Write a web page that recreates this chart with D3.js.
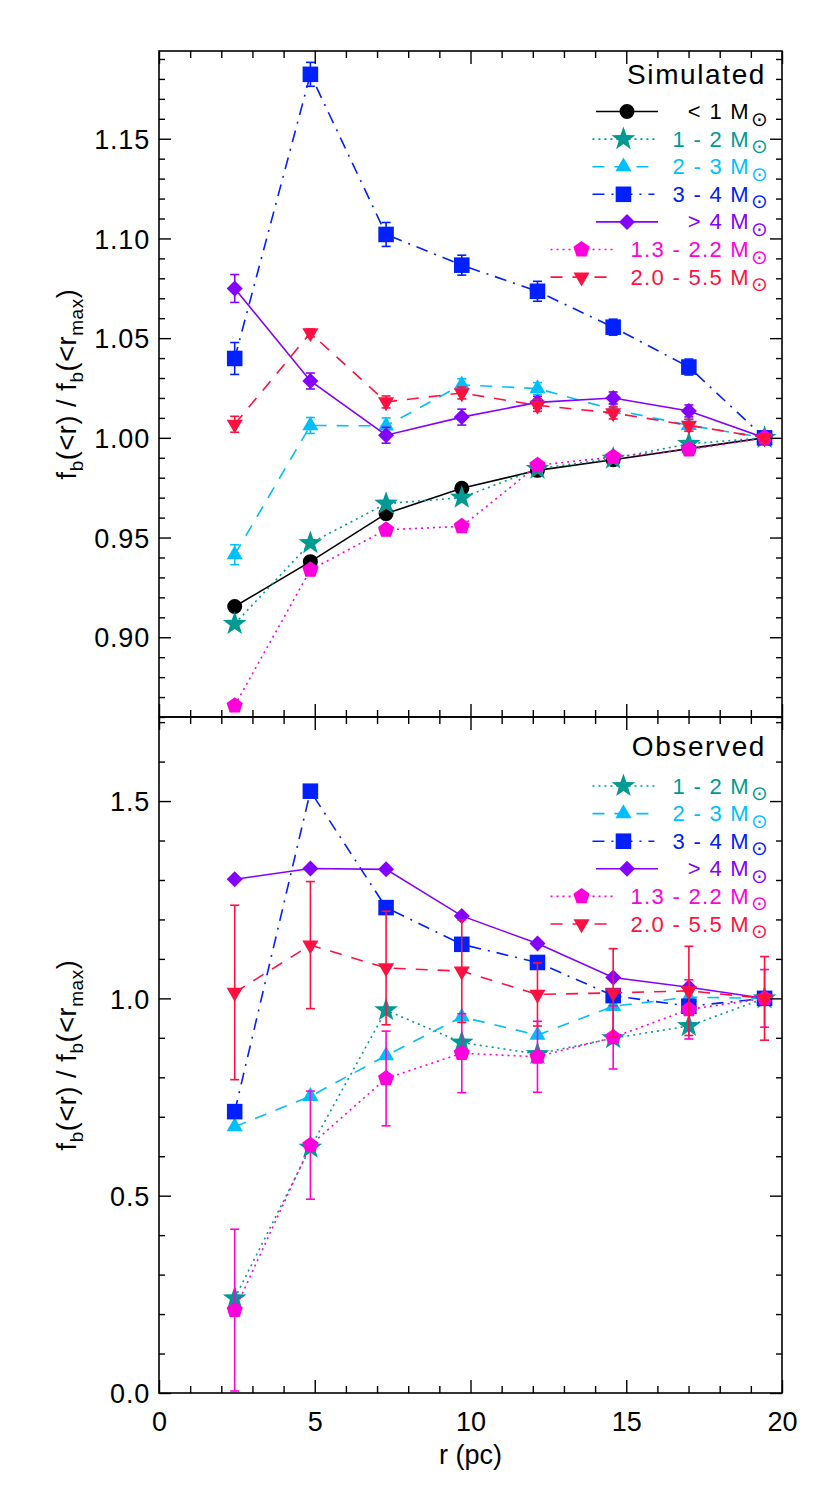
<!DOCTYPE html>
<html>
<head>
<meta charset="utf-8">
<script src="https://cdn.jsdelivr.net/npm/d3@7"></script>
<style>
body { margin: 0; background: #fff; }
text { font-family: "Liberation Sans", Arial, sans-serif; }
</style>
</head>
<body>
<script>
// radii of the 8 bins (pc)
var rPc = [2.43, 4.86, 7.29, 9.72, 12.15, 14.58, 17.01, 19.44];

// simulated
var simLt1      = [0.9154, 0.9379, 0.9620, 0.9747, 0.9837, 0.9890, 0.9946, 1.0];
var sim1to2     = [0.9067, 0.9472, 0.9670, 0.9700, 0.9845, 0.9896, 0.9970, 1.0];
var sim2to3     = [0.9414, 1.0062, 1.0060, 1.0266, 1.0247, 1.0142, 1.0063, 1.0];
var sim2to3Err  = [0.005, 0.004, 0.004, 0.003, 0.003, 0.003, 0.003, 0.002];
var sim3to4     = [1.0398, 1.1823, 1.1020, 1.0866, 1.0735, 1.0555, 1.0355, 1.0];
var sim3to4Err  = [0.008, 0.006, 0.006, 0.005, 0.005, 0.004, 0.004, 0.003];
var simGt4      = [1.0749, 1.0285, 1.0013, 1.0104, 1.0178, 1.0200, 1.0135, 1.0];
var simGt4Err   = [0.007, 0.004, 0.004, 0.004, 0.003, 0.003, 0.003, 0.002];
var sim13to22   = [0.8657, 0.9338, 0.9539, 0.9556, 0.9862, 0.9904, 0.9941, 1.0];
var sim20to55   = [1.0068, 1.0526, 1.0180, 1.0225, 1.0163, 1.0125, 1.0063, 1.0];
var sim20to55Err= [0.004, 0.002, 0.003, 0.003, 0.003, 0.003, 0.003, 0.002];

// observed
var obs1to2     = [0.240, 0.622, 0.970, 0.888, 0.859, 0.899, 0.930, 1.0];
var obs2to3     = [0.675, 0.752, 0.855, 0.953, 0.907, 0.980, 1.003, 1.0];
var obs3to4     = [0.713, 1.525, 1.230, 1.137, 1.091, 1.007, 0.980, 1.0];
var obsGt4      = [1.302, 1.329, 1.327, 1.209, 1.139, 1.053, 1.028, 1.0];
var obs13to22   = [0.210, 0.628, 0.797, 0.861, 0.852, 0.901, 0.972, 1.0];
var obs13to22Err= [0.205, 0.137, 0.120, 0.100, 0.090, 0.080, 0.075, 0.073];
var obs20to55   = [1.015, 1.135, 1.077, 1.069, 1.010, 1.014, 1.019, 1.0];
var obs20to55Err= [0.221, 0.161, 0.144, 0.130, 0.080, 0.112, 0.113, 0.106];

var massLabels = ["< 1 M", "1 - 2 M", "2 - 3 M", "3 - 4 M", "> 4 M", "1.3 - 2.2 M", "2.0 - 5.5 M"];
var xTicks = [0, 5, 10, 15, 20];
var yTicksTop = [0.90, 0.95, 1.00, 1.05, 1.10, 1.15];
var yTicksBot = [0.0, 0.5, 1.0, 1.5];

// styles for each mass bin (index into massLabels)
var styles = [
  {color: "#000000", dash: null,          sym: "circle"},
  {color: "#009a94", dash: "2,4",         sym: "star"},
  {color: "#00bfff", dash: "12,10",       sym: "triangle"},
  {color: "#0020ff", dash: "12,7,2,7",    sym: "square"},
  {color: "#8400ff", dash: null,          sym: "diamond"},
  {color: "#ff00dc", dash: "2,4",         sym: "pentagon"},
  {color: "#ff1040", dash: "12,10",       sym: "triangleDown"}
];

var W = 830, H = 1495;
var left = 159, right = 782;

var svg = d3.select("body").append("svg")
  .attr("width", W)
  .attr("height", H);

var x = d3.scaleLinear().domain([0, 20]).range([left, right]);

// marker paths
function poly(n, R, start, cx, cy) {
  var pts = [];
  for (var i = 0; i < n; i++) {
    var a = start + i * 2 * Math.PI / n;
    pts.push([cx + R * Math.cos(a), cy + R * Math.sin(a)]);
  }
  return "M" + pts.map(function(p){ return p[0].toFixed(2) + "," + p[1].toFixed(2); }).join("L") + "Z";
}
function starPath(R, cx, cy) {
  var pts = [], r2 = R * 0.40;
  for (var i = 0; i < 10; i++) {
    var a = -Math.PI / 2 + i * Math.PI / 5;
    var rr = i % 2 ? r2 : R;
    pts.push([cx + rr * Math.cos(a), cy + rr * Math.sin(a)]);
  }
  return "M" + pts.map(function(p){ return p[0].toFixed(2) + "," + p[1].toFixed(2); }).join("L") + "Z";
}
function symbolPath(type, cx, cy) {
  switch (type) {
    case "circle": return "M" + (cx + 7.5) + "," + cy + "A7.5,7.5 0 1,1 " + (cx - 7.5) + "," + cy + "A7.5,7.5 0 1,1 " + (cx + 7.5) + "," + cy + "Z";
    case "star": return starPath(12.5, cx, cy);
    case "triangle": return poly(3, 9.3, -Math.PI / 2, cx, cy);
    case "triangleDown": return poly(3, 9.3, Math.PI / 2, cx, cy);
    case "square": return poly(4, 11, Math.PI / 4, cx, cy);
    case "diamond": return poly(4, 8, 0, cx, cy);
    case "pentagon": return poly(5, 8.5, -Math.PI / 2, cx, cy);
  }
}

function drawPanel(cfg) {
  var y = d3.scaleLinear().domain(cfg.domain).range([cfg.bottom, cfg.top]);
  var g = svg.append("g");

  var line = d3.line()
    .x(function(d){ return x(d[0]); })
    .y(function(d){ return y(d[1]); });

  cfg.series.forEach(function(s) {
    var st = styles[s.idx];
    var pts = rPc.map(function(r, i){ return [r, s.vals[i]]; });
    var sg = g.append("g");

    if (s.err) {
      var eb = sg.append("g").attr("stroke", st.color).attr("stroke-width", 1.6).attr("fill", "none");
      pts.forEach(function(p, i) {
        var lo = Math.max(p[1] - s.err[i], cfg.domain[0]);
        var hi = p[1] + s.err[i];
        var px = x(p[0]);
        eb.append("line").attr("x1", px).attr("x2", px).attr("y1", y(lo)).attr("y2", y(hi));
        eb.append("line").attr("x1", px - 4.5).attr("x2", px + 4.5).attr("y1", y(lo)).attr("y2", y(lo));
        eb.append("line").attr("x1", px - 4.5).attr("x2", px + 4.5).attr("y1", y(hi)).attr("y2", y(hi));
      });
    }

    sg.append("path")
      .attr("d", line(pts))
      .attr("fill", "none")
      .attr("stroke", st.color)
      .attr("stroke-width", 1.6)
      .attr("stroke-dasharray", st.dash);

    sg.selectAll("path.mk")
      .data(pts)
      .enter()
      .append("path")
      .attr("class", "mk")
      .attr("d", function(d){ return symbolPath(st.sym, x(d[0]), y(d[1])); })
      .attr("fill", st.color);
  });

  // axes, ticks point inward on all four sides
  var fmt = d3.format(cfg.fmt);
  function clean(a) { a.select(".domain").remove(); a.selectAll("line").attr("stroke", "#000").attr("stroke-width", 1.4); }

  g.append("g").attr("transform", "translate(" + left + ",0)")
    .call(d3.axisLeft(y).tickValues(cfg.ticks).tickSizeInner(-12).tickSizeOuter(0).tickPadding(9).tickFormat(fmt))
    .call(clean)
    .selectAll("text")
    .attr("font-size", "27px").attr("font-family", "Liberation Sans, Arial, sans-serif")
    .attr("letter-spacing", "0.8px")
    .attr("fill", "#000").attr("dy", "0.36em");
  g.append("g").attr("transform", "translate(" + left + ",0)")
    .call(d3.axisLeft(y).tickValues(cfg.minor).tickSizeInner(-6).tickSizeOuter(0).tickFormat(""))
    .call(clean);
  g.append("g").attr("transform", "translate(" + right + ",0)")
    .call(d3.axisRight(y).tickValues(cfg.ticks).tickSizeInner(-12).tickSizeOuter(0).tickFormat(""))
    .call(clean);
  g.append("g").attr("transform", "translate(" + right + ",0)")
    .call(d3.axisRight(y).tickValues(cfg.minor).tickSizeInner(-6).tickSizeOuter(0).tickFormat(""))
    .call(clean);

  var xMinor = d3.range(1, 20).filter(function(d){ return d % 5 !== 0; });
  var xb = g.append("g").attr("transform", "translate(0," + cfg.bottom + ")")
    .call(d3.axisBottom(x).tickValues(xTicks).tickSizeInner(-13).tickSizeOuter(0).tickPadding(19)
      .tickFormat(cfg.xLabels ? d3.format("d") : ""))
    .call(clean);
  xb.selectAll("text").attr("font-size", "27px").attr("font-family", "Liberation Sans, Arial, sans-serif").attr("fill", "#000");
  g.append("g").attr("transform", "translate(0," + cfg.bottom + ")")
    .call(d3.axisBottom(x).tickValues(xMinor).tickSizeInner(-7).tickSizeOuter(0).tickFormat(""))
    .call(clean);
  g.append("g").attr("transform", "translate(0," + cfg.top + ")")
    .call(d3.axisTop(x).tickValues(xTicks).tickSizeInner(-13).tickSizeOuter(0).tickFormat(""))
    .call(clean);
  g.append("g").attr("transform", "translate(0," + cfg.top + ")")
    .call(d3.axisTop(x).tickValues(xMinor).tickSizeInner(-7).tickSizeOuter(0).tickFormat(""))
    .call(clean);

  g.append("rect")
    .attr("x", left).attr("y", cfg.top)
    .attr("width", right - left).attr("height", cfg.bottom - cfg.top)
    .attr("fill", "none").attr("stroke", "#000").attr("stroke-width", 1.6);

  // y title
  var midY = (cfg.top + cfg.bottom) / 2;
  var yt = g.append("text")
    .attr("transform", "translate(76," + midY + ") rotate(-90)")
    .attr("text-anchor", "middle")
    .attr("font-size", "27px")
    .attr("letter-spacing", "0.6px")
    .attr("fill", "#000");
  yt.append("tspan").text("f");
  yt.append("tspan").attr("font-size", "19px").attr("dy", 7).text("b");
  yt.append("tspan").attr("dy", -7).text("(<r) / f");
  yt.append("tspan").attr("font-size", "19px").attr("dy", 7).text("b");
  yt.append("tspan").attr("dy", -7).text("(<r");
  yt.append("tspan").attr("font-size", "19px").attr("dy", 7).text("max");
  yt.append("tspan").attr("dy", -7).text(")");

  // legend
  g.append("text")
    .attr("x", 766).attr("y", cfg.titleY)
    .attr("text-anchor", "end")
    .attr("font-size", "28px")
    .attr("letter-spacing", "1.6px")
    .attr("fill", "#000")
    .text(cfg.title);

  cfg.series.forEach(function(s, i) {
    var st = styles[s.idx];
    var cy = cfg.legendY + i * 27.6;
    var t = g.append("text")
      .attr("x", 750).attr("y", cy + 7.5)
      .attr("text-anchor", "end")
      .attr("font-size", "22px")
      .attr("letter-spacing", "1.3px")
      .attr("fill", st.color)
      .text(massLabels[s.idx]);
    g.append("text")
      .attr("x", 751).attr("y", cy + 14)
      .attr("font-size", "20px")
      .attr("font-family", "DejaVu Sans, sans-serif")
      .attr("fill", st.color)
      .text("\u2299");
    var tw = t.node().getComputedTextLength();
    var x2 = Math.min(658, 750 - tw - 18);
    var x1 = x2 - 62;
    g.append("line")
      .attr("x1", x1).attr("x2", x2).attr("y1", cy).attr("y2", cy)
      .attr("stroke", st.color).attr("stroke-width", 1.6)
      .attr("stroke-dasharray", st.dash);
    g.append("path")
      .attr("d", symbolPath(st.sym, (x1 + x2) / 2, cy))
      .attr("fill", st.color);
  });
}

drawPanel({
  top: 51, bottom: 717, domain: [0.86, 1.194],
  ticks: yTicksTop,
  minor: d3.range(86, 120).filter(function(d){ return d % 5 !== 0; }).map(function(d){ return d / 100; }),
  fmt: ".2f", xLabels: false,
  title: "Simulated", titleY: 84, legendY: 111.5,
  series: [
    {idx: 1, vals: sim1to2},
    {idx: 0, vals: simLt1},
    {idx: 2, vals: sim2to3, err: sim2to3Err},
    {idx: 3, vals: sim3to4, err: sim3to4Err},
    {idx: 4, vals: simGt4, err: simGt4Err},
    {idx: 5, vals: sim13to22},
    {idx: 6, vals: sim20to55, err: sim20to55Err}
  ].sort(function(a, b){ return a.idx - b.idx; })
});

drawPanel({
  top: 717, bottom: 1393, domain: [0, 1.713],
  ticks: yTicksBot,
  minor: d3.range(0, 18).filter(function(d){ return d % 5 !== 0; }).map(function(d){ return d / 10; }),
  fmt: ".1f", xLabels: true,
  title: "Observed", titleY: 756, legendY: 786,
  series: [
    {idx: 1, vals: obs1to2},
    {idx: 2, vals: obs2to3},
    {idx: 3, vals: obs3to4},
    {idx: 4, vals: obsGt4},
    {idx: 5, vals: obs13to22, err: obs13to22Err},
    {idx: 6, vals: obs20to55, err: obs20to55Err}
  ]
});

svg.append("text")
  .attr("x", (left + right) / 2).attr("y", 1464)
  .attr("text-anchor", "middle")
  .attr("font-size", "27px")
  .attr("fill", "#000")
  .text("r (pc)");
</script>
</body>
</html>
